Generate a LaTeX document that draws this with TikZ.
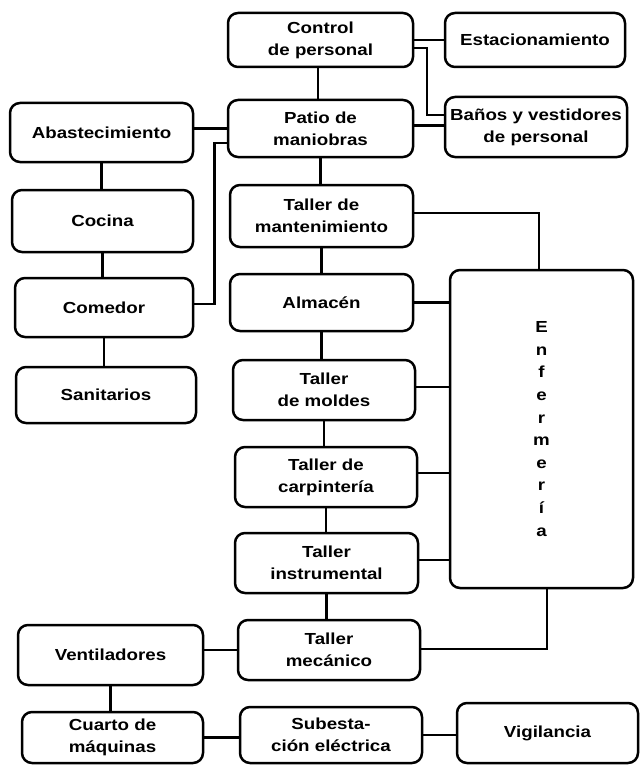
\documentclass[tikz,border=0pt]{standalone}
\usepackage{fontspec}
\setmainfont{Liberation Sans}[FakeStretch=1.17]
\begin{document}
\begin{tikzpicture}[x=1pt,y=-1pt,
  box/.style={draw,line width=2.5pt,rounded corners=10pt,align=center,inner sep=0pt,
    font=\fontsize{16}{22}\selectfont\bfseries},
  link/.style={line width=2.5pt},
  vtext/.style={align=center,inner sep=0pt,font=\fontsize{16}{22.6}\selectfont\bfseries}]
\useasboundingbox (0,0) rectangle (642,765);
% boxes
\node[box,minimum width=185,minimum height=54] (ctrl) at (320.5,40) {Control\\de personal};
\node[box,minimum width=180,minimum height=54] (estac) at (535,40) {Estacionamiento};
\node[box,minimum width=182,minimum height=60] (banos) at (536,127) {Baños y vestidores\\de personal};
\node[box,minimum width=185,minimum height=57] (patio) at (320.5,128.5) {Patio de\\maniobras};
\node[box,minimum width=183,minimum height=59] (abast) at (101.5,132.5) {Abastecimiento};
\node[box,minimum width=181,minimum height=62] (cocina) at (102.5,221) {Cocina};
\node[box,minimum width=178,minimum height=59] (comedor) at (104,307.5) {Comedor};
\node[box,minimum width=180,minimum height=56] (sanit) at (106,395) {Sanitarios};
\node[box,minimum width=183,minimum height=62] (mant) at (321.5,216) {Taller de\\mantenimiento};
\node[box,minimum width=183,minimum height=57] (alm) at (321.5,302.5) {Almacén};
\node[box,minimum width=182,minimum height=60] (moldes) at (324,390) {Taller\\de moldes};
\node[box,minimum width=182,minimum height=60] (carp) at (326,477) {Taller de\\carpintería};
\node[box,minimum width=183,minimum height=60] (instr) at (326.5,563) {Taller\\instrumental};
\node[box,minimum width=182,minimum height=60] (mec) at (329,650) {Taller\\mecánico};
\node[box,minimum width=185,minimum height=60] (vent) at (110.5,655) {Ventiladores};
\node[box,minimum width=181,minimum height=51] (cuarto) at (112.5,737.5) {Cuarto de\\máquinas};
\node[box,minimum width=182,minimum height=56] (sub) at (331,735) {Subesta-\\ción eléctrica};
\node[box,minimum width=181,minimum height=60] (vig) at (547.5,733) {Vigilancia};
\node[box,minimum width=183,minimum height=318] (enf) at (541.5,429) {};
\node[vtext] (enftxt) at (enf.center) {E\\n\\f\\e\\r\\m\\e\\r\\í\\a};
% connectors
\draw[link] (ctrl.east) -- (estac.west);
\draw[link] ([yshift=-8pt]ctrl.east) -| ([xshift=-17pt,yshift=12pt]banos.west) -- ([yshift=12pt]banos.west);
\draw[link] ([xshift=-2.5pt]ctrl.south) -- ([xshift=-2.5pt]ctrl.south |- patio.north);
\draw[link] ([yshift=3pt]patio.east) -- ([yshift=3pt]patio.east -| banos.west);
\draw[link] (abast.east |- patio.west) -- (patio.west);
\draw[link] ([yshift=-14.5pt]patio.west) -| ([xshift=20pt,yshift=3.5pt]comedor.east) -- ([yshift=3.5pt]comedor.east);
\draw[link] (abast.south) -- (abast.south |- cocina.north);
\draw[link] (cocina.south) -- (cocina.south |- comedor.north);
\draw[link] (comedor.south) -- (comedor.south |- sanit.north);
\draw[link] (patio.south) -- (patio.south |- mant.north);
\draw[link] ([yshift=3pt]mant.east) -| ([xshift=-2.5pt]enf.north);
\draw[link] (mant.south) -- (mant.south |- alm.north);
\draw[link] (alm.east) -- (alm.east -| enf.west);
\draw[link] (alm.south) -- (alm.south |- moldes.north);
\draw[link] ([yshift=3pt]moldes.east) -- ([yshift=3pt]moldes.east -| enf.west);
\draw[link] (moldes.south) -- (moldes.south |- carp.north);
\draw[link] ([yshift=4pt]carp.east) -- ([yshift=4pt]carp.east -| enf.west);
\draw[link] (carp.south) -- (carp.south |- instr.north);
\draw[link] ([yshift=3pt]instr.east) -- ([yshift=3pt]instr.east -| enf.west);
\draw[link] (instr.south) -- (instr.south |- mec.north);
\draw[link] ([xshift=5.5pt]enf.south) |- ([yshift=1pt]mec.east);
\draw[link] (vent.east |- mec.west) -- (mec.west);
\draw[link] (vent.south) -- (vent.south |- cuarto.north);
\draw[link] (cuarto.east) -- (cuarto.east -| sub.west);
\draw[link] (sub.east) -- (sub.east -| vig.west);
\end{tikzpicture}
\end{document}
